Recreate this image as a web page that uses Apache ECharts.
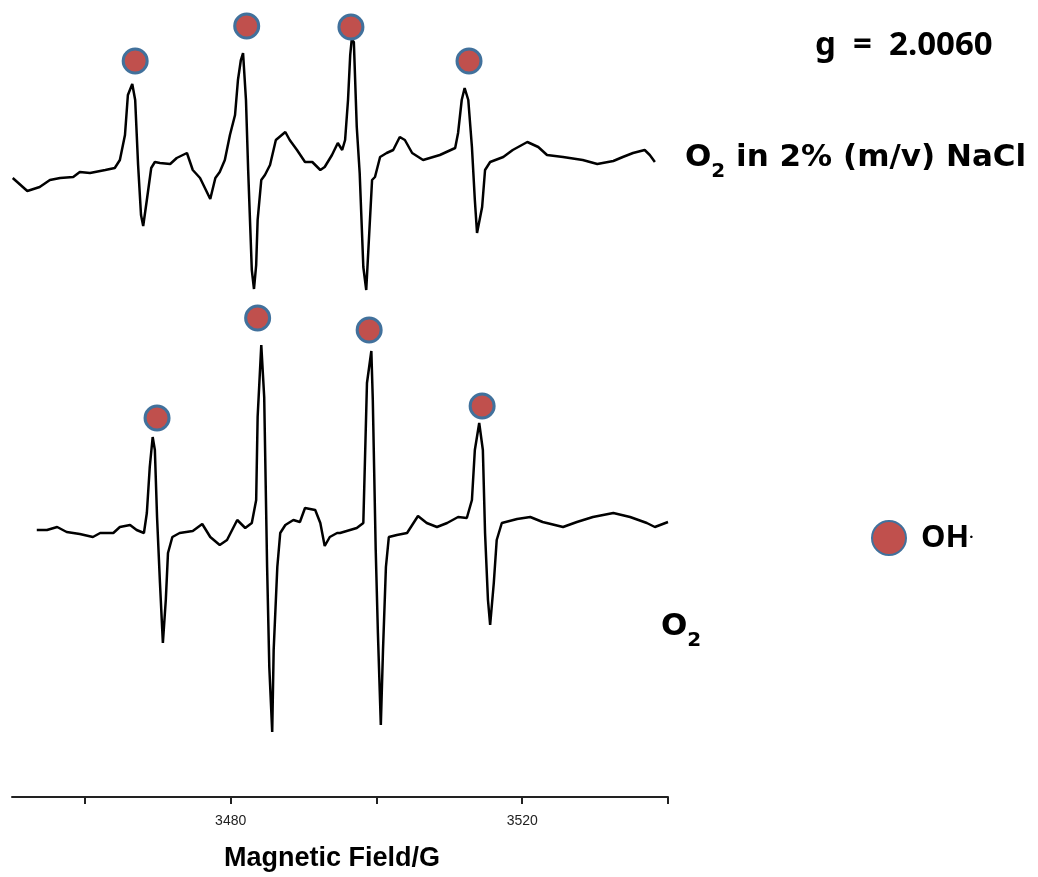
<!DOCTYPE html>
<html>
<head>
<meta charset="utf-8">
<script src="https://cdn.jsdelivr.net/npm/echarts@6/dist/echarts.min.js"></script>
<style>
  html, body { margin: 0; padding: 0; background: #fff; }
  #main { width: 1038px; height: 877px; }
</style>
</head>
<body>
<div id="main"></div>
<script>
// magnetic field (G) and signal (a.u.)
var naclField = [3450.1,3452.1,3453.8,3455.2,3456.6,3458.4,3459.3,3460.7,3462.8,3464.1,3464.8,3465.5,3465.9,3466.5,3466.9,3467.3,3467.7,3468.0,3468.5,3469.1,3469.6,3470.3,3471.7,3472.6,3474.0,3474.8,3475.8,3476.6,3477.2,3477.9,3478.5,3479.2,3479.9,3480.6,3481.0,3481.4,3481.7,3482.1,3482.4,3482.7,3482.9,3483.2,3483.5,3483.7,3484.2,3484.7,3485.4,3486.2,3487.5,3488.1,3489.1,3490.2,3491.2,3492.3,3492.9,3493.9,3494.7,3495.3,3495.7,3496.1,3496.4,3496.6,3496.9,3497.3,3497.7,3498.2,3498.6,3499.4,3499.8,3500.5,3501.4,3502.3,3503.2,3503.9,3504.9,3506.4,3508.7,3510.8,3511.2,3511.7,3512.1,3512.6,3513.1,3513.5,3513.8,3514.5,3514.9,3515.6,3517.4,3518.7,3520.7,3522.2,3523.4,3525.6,3528.3,3530.3,3532.5,3533.8,3535.2,3536.8,3537.5,3538.2];
var naclSignal = [-8,-21,-17,-10,-8,-7,-2,-3,0,2,10,35,75,86,70,5,-45,-56,-30,2,8,7,6,12,17,0,-8,-20,-29,-8,-2,10,35,55,90,110,117,70,0,-60,-100,-119,-95,-50,-10,-5,5,30,38,30,20,8,8,0,3,15,27,20,30,70,115,130,128,43,-3,-97,-120,-10,-7,13,17,20,33,30,17,10,15,22,37,70,82,70,23,-30,-63,-37,0,8,13,20,28,23,15,13,10,6,9,13,17,20,15,8];

var o2Field = [3453.4,3454.8,3456.2,3457.5,3459.3,3461.1,3462.1,3463.9,3464.8,3466.2,3467.1,3468.1,3468.5,3468.9,3469.3,3469.6,3469.9,3470.3,3470.7,3471.1,3471.4,3472.0,3473.0,3474.8,3476.1,3477.2,3478.5,3479.5,3480.9,3482.0,3482.9,3483.5,3483.7,3484.2,3484.6,3485.0,3485.3,3485.7,3485.9,3486.4,3486.8,3487.5,3488.6,3489.5,3490.2,3491.6,3492.3,3492.9,3493.6,3494.6,3495.0,3497.3,3498.2,3498.4,3498.7,3499.3,3499.5,3499.9,3500.2,3500.6,3500.9,3501.3,3501.7,3502.8,3504.2,3505.7,3506.9,3508.3,3509.7,3511.2,3512.4,3513.1,3513.5,3514.1,3514.6,3514.9,3515.3,3515.6,3516.1,3516.5,3517.2,3519.3,3521.1,3522.8,3525.6,3527.5,3529.7,3532.5,3534.8,3537.1,3538.2,3540.0];
var o2Signal = [0,0,3,-2,-4,-7,-3,-3,3,5,0,-3,17,63,93,80,13,-53,-113,-70,-23,-7,-3,-1,6,-7,-15,-10,10,2,7,30,113,185,133,-37,-137,-202,-120,-37,-3,5,10,8,22,20,7,-16,-7,-3,-3,2,7,63,147,179,130,-20,-103,-195,-120,-37,-7,-5,-3,14,7,3,7,13,12,30,80,107,80,-3,-70,-95,-53,-10,7,11,13,8,3,8,13,17,13,7,3,8];

// OH radical markers
var naclMarkField = [3466.9, 3482.2, 3496.5, 3512.7];
var naclMarkSignal = [109, 144, 143, 109];
var o2MarkField = [3469.9, 3483.7, 3499.0, 3514.5];
var o2MarkSignal = [112, 212, 200, 124];

var naclOffset = 627;
var o2Offset = 267;

var tickValues = [3460, 3480, 3500, 3520, 3540];
var labelValues = [3480, 3520];

function pairs(xs, ys, off) {
    var out = [];
    for (var i = 0; i < xs.length; i++) {
        out.push([xs[i], ys[i] + off]);
    }
    return out;
}

var markData = pairs(naclMarkField, naclMarkSignal, naclOffset)
    .concat(pairs(o2MarkField, o2MarkSignal, o2Offset));

var boldFont = "'Noto Sans', 'Noto Sans CJK KR', sans-serif";
var wideFont = "'DejaVu Sans', 'Noto Sans', sans-serif";

var subRich = {
    a: { fontFamily: wideFont, fontWeight: 'bold', fontSize: 31, color: '#000', lineHeight: 40, verticalAlign: 'top' },
    s: { fontFamily: wideFont, fontWeight: 'bold', fontSize: 20, color: '#000', lineHeight: 40, verticalAlign: 'bottom' }
};

var myChart = echarts.init(document.getElementById('main'));
var option = {
    animation: false,
    backgroundColor: '#ffffff',
    grid: { left: 12, right: 370, top: 0, bottom: 80, outerBoundsMode: 'none' },
    xAxis: {
        type: 'value',
        min: 3450,
        max: 3540,
        name: 'Magnetic Field/G',
        nameLocation: 'middle',
        nameGap: 48,
        nameTextStyle: {
            fontFamily: 'Liberation Sans',
            fontWeight: 'bold',
            fontSize: 27,
            color: '#000',
            padding: [0, 16, 0, 0]
        },
        axisLine: { lineStyle: { color: '#222', width: 2 } },
        axisTick: {
            show: true,
            length: 7,
            inside: false,
            customValues: tickValues,
            lineStyle: { color: '#222', width: 2 }
        },
        axisLabel: {
            customValues: labelValues,
            margin: 17,
            formatter: function (v) { return String(v); },
            fontFamily: 'Liberation Sans',
            fontSize: 14,
            color: '#222'
        },
        splitLine: { show: false }
    },
    yAxis: {
        type: 'value',
        min: 0,
        max: 797,
        show: false
    },
    legend: {
        data: [{ name: 'OH·', icon: 'circle' }],
        left: 866,
        top: 515,
        itemWidth: 34,
        itemHeight: 34,
        formatter: '{a|OH}{d|·}',
        textStyle: {
            padding: [0, 0, 0, 10],
            rich: {
                a: { fontFamily: boldFont, fontSize: 31, fontWeight: 'bold', color: '#000' },
                d: { fontFamily: boldFont, fontSize: 15, fontWeight: 'bold', color: '#000' }
            }
        }
    },
    graphic: [
        {
            type: 'text',
            left: 815,
            top: 29,
            style: {
                text: 'g  =  2.0060',
                font: "bold 33px 'Noto Sans', 'Noto Sans CJK KR', sans-serif",
                fill: '#000'
            }
        },
        {
            type: 'text',
            left: 685,
            top: 142,
            style: {
                text: '{a|O}{s|2}{a| in 2% (m/v) NaCl}',
                rich: subRich
            }
        },
        {
            type: 'text',
            left: 661,
            top: 611,
            style: {
                text: '{a|O}{s|2}',
                rich: subRich
            }
        }
    ],
    series: [
        {
            name: 'O2 in 2% (m/v) NaCl',
            type: 'line',
            data: pairs(naclField, naclSignal, naclOffset),
            showSymbol: false,
            lineStyle: { color: '#000', width: 2.5 },
            z: 2
        },
        {
            name: 'O2',
            type: 'line',
            data: pairs(o2Field, o2Signal, o2Offset),
            showSymbol: false,
            lineStyle: { color: '#000', width: 2.5 },
            z: 2
        },
        {
            name: 'OH·',
            type: 'scatter',
            data: markData,
            symbol: 'circle',
            symbolSize: 24,
            itemStyle: {
                color: '#c0504d',
                borderColor: '#41719c',
                borderWidth: 3,
                opacity: 1
            },
            z: 5
        }
    ]
};
myChart.setOption(option);
</script>
</body>
</html>
